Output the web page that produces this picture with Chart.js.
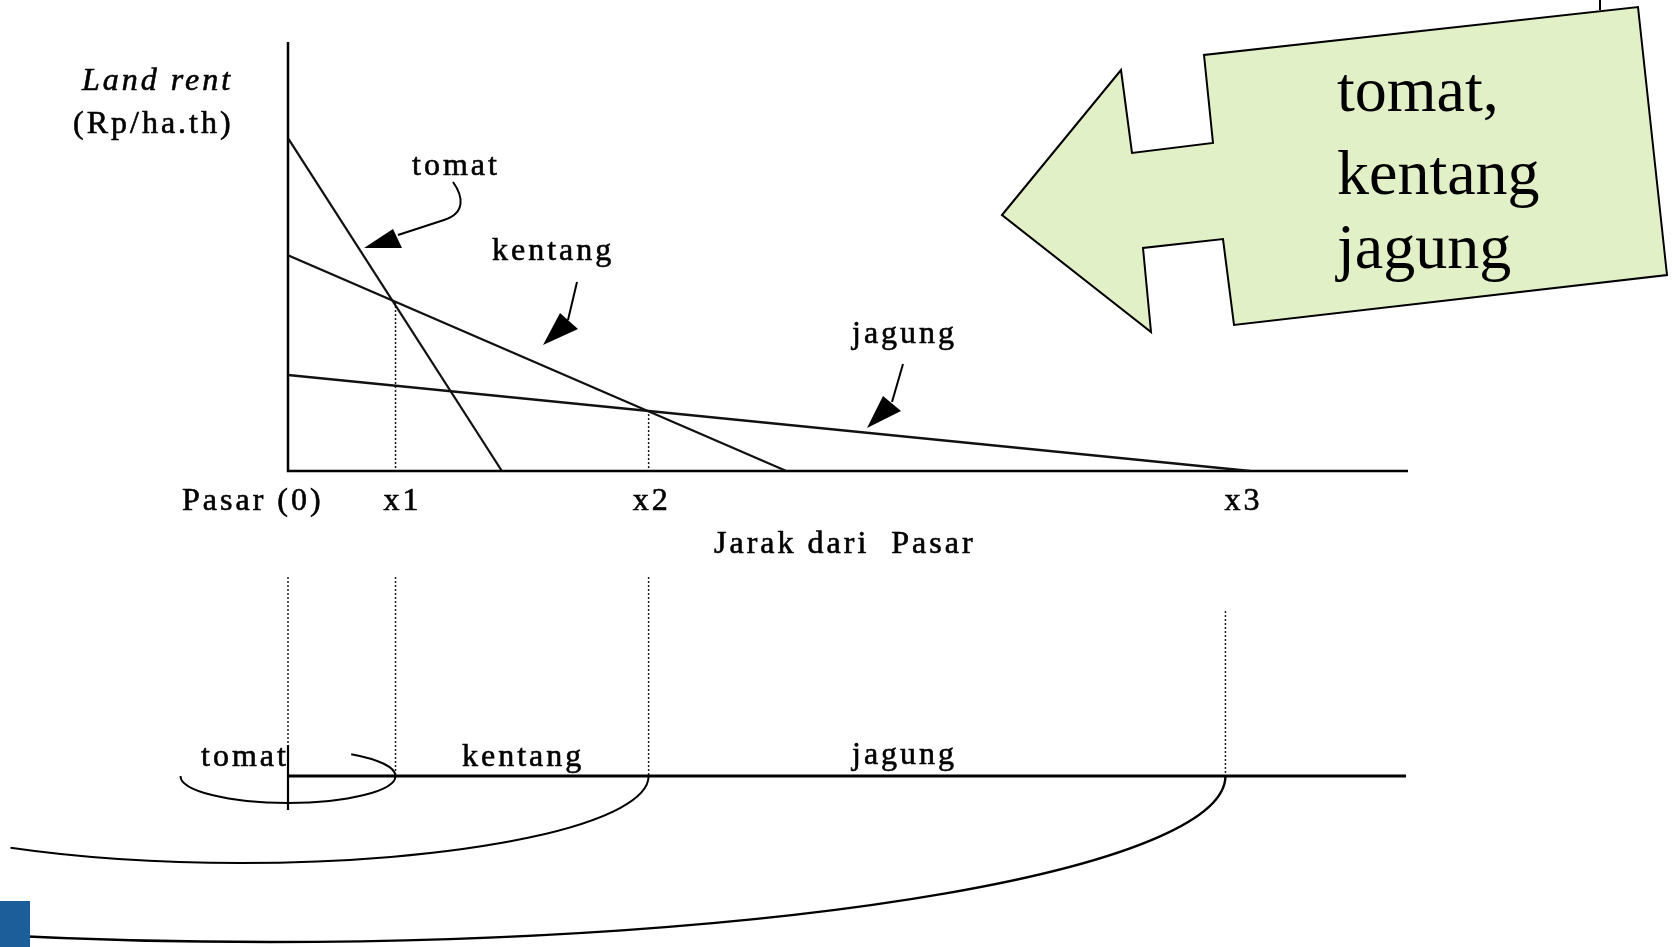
<!DOCTYPE html>
<html>
<head>
<meta charset="utf-8">
<title>Land rent - Jarak dari Pasar</title>
<script src="https://cdn.jsdelivr.net/npm/chart.js@4.4.0/dist/chart.umd.min.js"></script>
<style>
  html, body { margin: 0; padding: 0; background: #fff; }
  #chart { display: block; }
</style>
</head>
<body>
<canvas id="chart" width="1672" height="947"></canvas>
<script>
// jarak dari pasar (x) dan land rent (y)
var tickValues = [0, 9.6, 32.2, 83.7];
var tickLabels = ['Pasar (0)', 'x1', 'x2', 'x3'];
var tomat = [{x: 0, y: 77.6}, {x: 19.1, y: 0}];
var kentang = [{x: 0, y: 50.3}, {x: 44.5, y: 0}];
var jagung = [{x: 0, y: 22.4}, {x: 85.9, y: 0}];
var batasX1 = [{x: 9.6, y: 39.4}, {x: 9.6, y: 0}];
var batasX2 = [{x: 32.2, y: 14.2}, {x: 32.2, y: 0}];
var zona = ['tomat', 'kentang', 'jagung'];
var panahTeks = ['tomat,', 'kentang', 'jagung'];

var serif = '"Liberation Serif", "Times New Roman", serif';
var kecil = '32px ' + serif;

function tulis(ctx, s, x, y, font, spacing, tebal) {
  ctx.font = font;
  ctx.letterSpacing = (spacing || 0) + 'px';
  ctx.textAlign = 'left';
  ctx.textBaseline = 'alphabetic';
  ctx.fillStyle = '#000';
  ctx.fillText(s, x, y);
  if (tebal) {
    ctx.lineWidth = tebal;
    ctx.strokeStyle = '#000';
    ctx.strokeText(s, x, y);
  }
  ctx.letterSpacing = '0px';
}

function segitiga(ctx, p) {
  ctx.beginPath();
  ctx.moveTo(p[0][0], p[0][1]);
  ctx.lineTo(p[1][0], p[1][1]);
  ctx.lineTo(p[2][0], p[2][1]);
  ctx.closePath();
  ctx.fill();
}

var gambar = {
  id: 'gambar',
  beforeDatasetsDraw: function(chart) {
    var ctx = chart.ctx, a = chart.chartArea;
    ctx.save();
    ctx.strokeStyle = '#000';
    ctx.lineWidth = 2.5;
    ctx.beginPath();
    ctx.moveTo(a.left, a.top);
    ctx.lineTo(a.left, a.bottom);
    ctx.lineTo(a.right, a.bottom);
    ctx.stroke();
    ctx.restore();
  },
  afterDraw: function(chart) {
    var ctx = chart.ctx, a = chart.chartArea;
    var xs = chart.scales.x;
    var px = function(v) { return xs.getPixelForValue(v); };
    ctx.save();

    // judul sumbu
    tulis(ctx, 'Land rent', 82, 90, 'italic ' + kecil, 3, 0.6);
    tulis(ctx, '(Rp/ha.th)', 73, 133, kecil, 3, 0.6);
    var geser = [-106, -12, -16, -1];
    var labY = a.bottom + 39;
    for (var i = 0; i < tickValues.length; i++) {
      tulis(ctx, tickLabels[i], px(tickValues[i]) + geser[i], labY, kecil, 3, 0.6);
    }
    tulis(ctx, 'Jarak dari  Pasar', 714, a.bottom + 82, kecil, 3, 0.6);

    // label kurva dengan panah
    tulis(ctx, zona[0], 412, 175, kecil, 3, 0.6);
    tulis(ctx, zona[1], 492, 260, kecil, 3, 0.6);
    tulis(ctx, zona[2], 852, 343, kecil, 3, 0.6);

    ctx.strokeStyle = '#000';
    ctx.fillStyle = '#000';
    ctx.lineWidth = 2;
    ctx.beginPath();
    ctx.moveTo(453, 182);
    ctx.bezierCurveTo(463, 196, 466, 213, 444, 220);
    ctx.lineTo(398, 235);
    ctx.stroke();
    segitiga(ctx, [[364, 248], [393, 229], [402, 248]]);

    ctx.beginPath();
    ctx.moveTo(577, 282);
    ctx.lineTo(568, 320);
    ctx.stroke();
    segitiga(ctx, [[543, 345], [560, 313], [578, 329]]);

    ctx.beginPath();
    ctx.moveTo(903, 364);
    ctx.lineTo(892, 402);
    ctx.stroke();
    segitiga(ctx, [[867, 428], [883, 396], [901, 411]]);

    // diagram zona di bawah
    var yZ = a.bottom + 305;
    ctx.lineWidth = 1.5;
    ctx.strokeStyle = '#222';
    ctx.setLineDash([2, 2]);
    var atas = [a.bottom + 106, a.bottom + 106, a.bottom + 106, a.bottom + 140];
    for (var j = 0; j < tickValues.length; j++) {
      ctx.beginPath();
      ctx.moveTo(px(tickValues[j]), atas[j]);
      ctx.lineTo(px(tickValues[j]), yZ);
      ctx.stroke();
    }
    ctx.setLineDash([]);
    ctx.strokeStyle = '#000';
    ctx.lineWidth = 2.8;
    ctx.beginPath();
    ctx.moveTo(a.left, yZ);
    ctx.lineTo(a.right - 2, yZ);
    ctx.stroke();
    ctx.lineWidth = 2.2;
    ctx.beginPath();
    ctx.moveTo(px(0), yZ - 31);
    ctx.lineTo(px(0), yZ + 34);
    ctx.stroke();

    ctx.lineWidth = 2;
    ctx.beginPath();
    ctx.ellipse(px(0), yZ, px(tickValues[1]) - px(0), 27, 0, Math.PI, -0.3 * Math.PI, true);
    ctx.stroke();
    ctx.beginPath();
    ctx.ellipse(px(tickValues[2]) - 408, yZ, 408, 87, 0, 0, 2.17, false);
    ctx.stroke();
    ctx.lineWidth = 2.4;
    ctx.beginPath();
    ctx.ellipse(px(tickValues[3]) - 955, yZ, 955, 166, 0, 0, 1.86, false);
    ctx.stroke();

    tulis(ctx, zona[0], 201, yZ - 10, kecil, 3, 0.6);
    tulis(ctx, zona[1], 462, yZ - 10, kecil, 3, 0.6);
    tulis(ctx, zona[2], 852, yZ - 12, kecil, 3, 0.6);

    // panah hijau
    var poly = [[1002, 215], [1121, 70], [1132, 153], [1213, 143], [1204, 55], [1638, 7],
                [1667, 275], [1234, 325], [1223, 239], [1143, 248], [1151, 332]];
    ctx.beginPath();
    ctx.moveTo(poly[0][0], poly[0][1]);
    for (var k = 1; k < poly.length; k++) ctx.lineTo(poly[k][0], poly[k][1]);
    ctx.closePath();
    ctx.fillStyle = '#E2F0C7';
    ctx.fill();
    ctx.lineWidth = 2;
    ctx.strokeStyle = '#000';
    ctx.stroke();
    ctx.beginPath();
    ctx.moveTo(1600, 0);
    ctx.lineTo(1600, 10);
    ctx.stroke();
    var besar = '64px ' + serif;
    tulis(ctx, panahTeks[0], 1337, 111, besar, 0);
    tulis(ctx, panahTeks[1], 1337, 194, besar, 0);
    tulis(ctx, panahTeks[2], 1337, 268, besar, 0);

    // kotak biru di pojok
    ctx.fillStyle = '#1B5E9A';
    ctx.fillRect(0, 901, 30, 46);
    ctx.restore();
  }
};

var garis = function(data, dash, w) {
  return {
    data: data,
    showLine: true,
    borderColor: '#111',
    borderWidth: w,
    borderDash: dash,
    pointRadius: 0,
    fill: false
  };
};

var config = {
  type: 'scatter',
  data: {
    datasets: [
      garis(tomat, [], 2.2),
      garis(kentang, [], 2.2),
      garis(jagung, [], 2.5),
      garis(batasX1, [2, 2], 1.5),
      garis(batasX2, [2, 2], 1.5)
    ]
  },
  options: {
    responsive: false,
    animation: false,
    devicePixelRatio: 1,
    layout: { padding: { left: 288, top: 42, right: 264, bottom: 476 } },
    plugins: { legend: { display: false }, tooltip: { enabled: false } },
    scales: {
      x: { type: 'linear', min: 0, max: 100, display: false },
      y: { type: 'linear', min: 0, max: 100, display: false }
    }
  },
  plugins: [gambar]
};

window.onload = function() {
  var ctx = document.getElementById('chart').getContext('2d');
  window.grafik = new Chart(ctx, config);
};
</script>
</body>
</html>
